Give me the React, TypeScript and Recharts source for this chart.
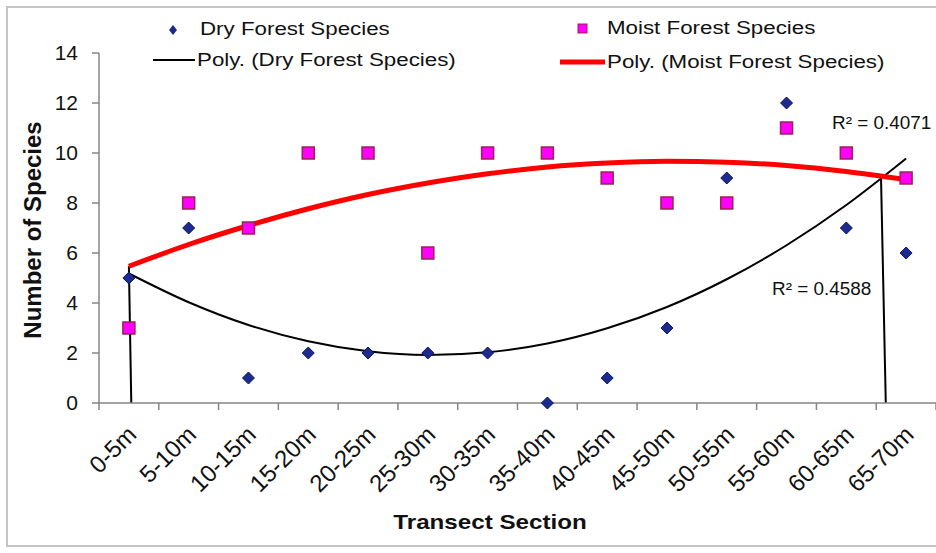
import React from "react";
import { ComposedChart, Line, Scatter, XAxis, YAxis, ReferenceLine } from "recharts";

document.body.style.margin = "0";

const sections = [
  "0-5m", "5-10m", "10-15m", "15-20m", "20-25m", "25-30m", "30-35m",
  "35-40m", "40-45m", "45-50m", "50-55m", "55-60m", "60-65m", "65-70m",
];
const drySpecies = [5, 7, 1, 2, 2, 2, 2, 0, 1, 3, 9, 12, 7, 6];
const moistSpecies = [3, 8, 7, 10, 10, 6, 10, 10, 9, 8, 8, 11, 10, 9];
// trend curves at each section
const dryTrend = [5.18, 4.03, 3.12, 2.47, 2.07, 1.92, 2.03, 2.38, 2.99, 3.84, 4.95, 6.31, 7.92, 9.78];
const moistTrend = [5.47, 6.34, 7.1, 7.77, 8.34, 8.8, 9.17, 9.44, 9.6, 9.67, 9.63, 9.5, 9.26, 8.93];
const yTicks = [0, 2, 4, 6, 8, 10, 12, 14];
// the two stray vertical strokes in the original
const dropLines = [
  [{ x: 1.0, y: 5.47 }, { x: 1.04, y: 0 }],
  [{ x: 13.58, y: 9.05 }, { x: 13.66, y: 0 }],
];

const data = sections.map((s, i) => ({
  pos: i + 1,
  section: s,
  dry: drySpecies[i],
  moist: moistSpecies[i],
  dryTrend: dryTrend[i],
  moistTrend: moistTrend[i],
}));

const font = "'Liberation Sans', Arial, sans-serif";
const axisGrey = "#858585";

const Diamond = (props: any) => {
  const { cx, cy } = props;
  const r = 6;
  return (
    <polygon
      points={`${cx},${cy - r} ${cx + r},${cy} ${cx},${cy + r} ${cx - r},${cy}`}
      fill="#1d2a8e"
      stroke="#0b1460"
      strokeWidth={1}
    />
  );
};

const Square = (props: any) => {
  const { cx, cy } = props;
  const h = 6;
  return <rect x={cx - h} y={cy - h} width={h * 2} height={h * 2} fill="#ff00ff" stroke="#9b2350" strokeWidth={1.5} />;
};

// category label plus tick marks on the section boundaries (Excel style)
const SectionTick = (props: any) => {
  const { x, y, payload, index, width } = props;
  const half = width / sections.length / 2;
  const ay = y - 25;
  return (
    <g>
      <line x1={x - half} y1={ay} x2={x - half} y2={ay + 7} stroke={axisGrey} strokeWidth={1.5} />
      {index === sections.length - 1 && (
        <line x1={x + half} y1={ay} x2={x + half} y2={ay + 7} stroke={axisGrey} strokeWidth={1.5} />
      )}
      <text
        x={0}
        y={0}
        dy={17}
        transform={`translate(${x - 3}, ${y - 4}) rotate(-45)`}
        textAnchor="end"
        fontSize={24}
        fill="#111"
        fontFamily={font}
      >
        {sections[payload.value - 1]}
      </text>
    </g>
  );
};

const wide = (x: number, y: number, size: number, text: string, extra: any = {}) => (
  <div
    style={{
      position: "absolute",
      left: x,
      top: y,
      fontFamily: font,
      fontSize: size,
      lineHeight: "20px",
      whiteSpace: "nowrap",
      color: "#111",
      transform: "scaleX(1.24)",
      transformOrigin: "left center",
      ...extra,
    }}
  >
    {text}
  </div>
);

export default function App() {
  return (
    <div style={{ position: "relative", width: 936, height: 553, background: "#fff", overflow: "hidden" }}>
      <div
        style={{
          position: "absolute",
          left: 6,
          top: 6,
          width: 940,
          height: 537,
          border: "2px solid #c4c4c4",
        }}
      />
      <ComposedChart
        width={936}
        height={553}
        data={data}
        margin={{ top: 53, right: 0, left: 0, bottom: 0 }}
        style={{ position: "absolute", left: 0, top: 0 }}
      >
        <XAxis
          dataKey="pos"
          type="number"
          domain={[0.5, 14.5]}
          ticks={data.map((d) => d.pos)}
          interval={0}
          tickLine={false}
          tickSize={0}
          tickMargin={25}
          height={150}
          axisLine={{ stroke: axisGrey, strokeWidth: 1.5 }}
          tick={<SectionTick />}
        />
        <YAxis
          type="number"
          domain={[0, 14]}
          ticks={yTicks}
          interval={0}
          width={99}
          tickSize={7}
          tickMargin={14}
          axisLine={{ stroke: axisGrey, strokeWidth: 1.5 }}
          tickLine={{ stroke: axisGrey, strokeWidth: 1.5 }}
          tick={{ fontSize: 21, fill: "#111", fontFamily: font }}
        />
        {dropLines.map((seg, i) => (
          <ReferenceLine key={i} segment={seg} stroke="#000" strokeWidth={2} ifOverflow="visible" />
        ))}
        <Line dataKey="dryTrend" type="monotone" stroke="#000" strokeWidth={2} dot={false} isAnimationActive={false} />
        <Line dataKey="moistTrend" type="monotone" stroke="#ff0000" strokeWidth={5} dot={false} isAnimationActive={false} />
        <Scatter dataKey="dry" shape={Diamond} isAnimationActive={false} />
        <Scatter dataKey="moist" shape={Square} isAnimationActive={false} />
      </ComposedChart>

      {/* legend */}
      <svg style={{ position: "absolute", left: 0, top: 0 }} width={936} height={80}>
        <polygon points="173,25 177,30 173,35 169,30" fill="#1d2a8e" />
        <rect x={578} y={24} width={9} height={9} fill="#ff00ff" stroke="#9b2350" />
        <line x1={153} y1={60} x2={195} y2={60} stroke="#000" strokeWidth={2} />
        <line x1={560} y1={62} x2={605} y2={62} stroke="#ff0000" strokeWidth={5} />
      </svg>
      {wide(200, 19, 18, "Dry Forest Species")}
      {wide(607, 18, 18, "Moist Forest Species")}
      {wide(197, 50, 18, "Poly. (Dry Forest Species)")}
      {wide(607, 52, 18, "Poly. (Moist Forest Species)")}

      {/* R squared labels */}
      {wide(832, 113, 18, "R\u00b2 = 0.4071", { transform: "scaleX(1.05)" })}
      {wide(772, 279, 18, "R\u00b2 = 0.4588", { transform: "scaleX(1.05)" })}

      {/* axis titles */}
      <div
        style={{
          position: "absolute",
          left: 490,
          top: 522,
          transform: "translate(-50%, -50%) scaleX(1.15)",
          fontFamily: font,
          fontWeight: "bold",
          fontSize: 21,
          whiteSpace: "nowrap",
          color: "#111",
        }}
      >
        Transect Section
      </div>
      <div
        style={{
          position: "absolute",
          left: 33,
          top: 230,
          transform: "translate(-50%, -50%) rotate(-90deg)",
          fontFamily: font,
          fontWeight: "bold",
          fontSize: 24,
          whiteSpace: "nowrap",
          color: "#111",
        }}
      >
        Number of Species
      </div>
    </div>
  );
}
